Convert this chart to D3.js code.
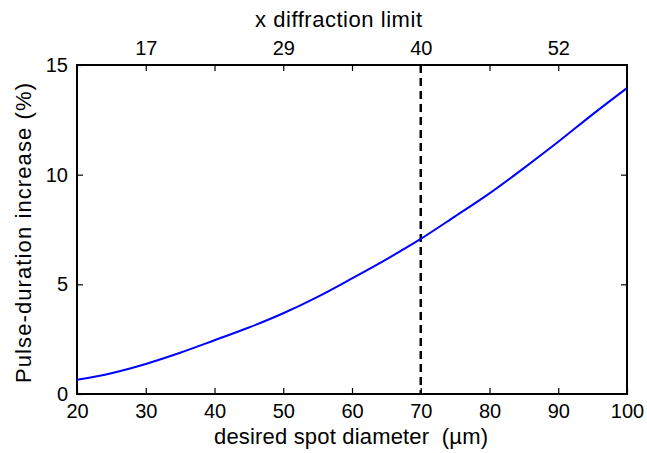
<!DOCTYPE html>
<html>
<head>
<meta charset="utf-8">
<script src="https://cdn.jsdelivr.net/npm/d3@7"></script>
<style>
  body { margin: 0; background: #fff; }
  text { font-family: "Liberation Sans", Arial, sans-serif; fill: #000; }
</style>
</head>
<body>
<div id="chart"></div>
<script>
// spot diameter (um) and pulse-duration increase (%)
var diameters = [20, 25, 30, 35, 40, 45, 50, 55, 60, 65, 70, 75, 80, 85, 90, 95, 100];
var increase  = [0.65, 0.95, 1.37, 1.88, 2.45, 3.03, 3.68, 4.43, 5.27, 6.14, 7.07, 8.1, 9.15, 10.3, 11.5, 12.75, 13.95];

var xTicks = [20, 30, 40, 50, 60, 70, 80, 90, 100];
var yTicks = [0, 5, 10, 15];
var topTickPos = [30, 40, 50, 60, 70, 80, 90];
var topLabelPos = [30, 50, 70, 90];
var topLabels = ['17', '29', '40', '52'];
var markerX = 70;

var W = 647, H = 453;
var m = {left: 77, right: 20, top: 65, bottom: 59};
var iw = W - m.left - m.right, ih = H - m.top - m.bottom;

var svg = d3.select('#chart').append('svg').attr('width', W).attr('height', H);
var g = svg.append('g').attr('transform', 'translate(' + m.left + ',' + m.top + ')');

var x = d3.scaleLinear().domain([20, 100]).range([0, iw]);
var y = d3.scaleLinear().domain([0, 15]).range([ih, 0]);

function style(ax){
    ax.select('.domain').remove();
    ax.attr('font-family', null).attr('font-size', null);
    ax.selectAll('line').attr('stroke', '#000').attr('stroke-width', 1.2);
    ax.selectAll('text').attr('font-size', 20);
}

// bottom
g.append('g').attr('transform', 'translate(0,' + ih + ')')
  .call(d3.axisBottom(x).tickValues(xTicks).tickSizeInner(-6).tickSizeOuter(0).tickPadding(10))
  .call(style);
// top
var topAx = d3.axisTop(x).tickValues(topTickPos).tickSizeInner(-6).tickSizeOuter(0).tickPadding(10)
  .tickFormat(function(d){ var i = topLabelPos.indexOf(d); return i < 0 ? '' : topLabels[i]; });
g.append('g').call(topAx).call(style);
// left
g.append('g')
  .call(d3.axisLeft(y).tickValues(yTicks).tickSizeInner(-6).tickSizeOuter(0).tickPadding(9))
  .call(style);
// right
g.append('g').attr('transform', 'translate(' + iw + ',0)')
  .call(d3.axisRight(y).tickValues([5, 10]).tickSizeInner(-6).tickSizeOuter(0).tickFormat(''))
  .call(style);

// frame
g.append('rect').attr('width', iw).attr('height', ih)
  .attr('fill', 'none').attr('stroke', '#000').attr('stroke-width', 2);

// dashed marker
g.append('line').attr('x1', x(markerX)).attr('x2', x(markerX)).attr('y1', 0).attr('y2', ih)
  .attr('stroke', '#000').attr('stroke-width', 2.5).attr('stroke-dasharray', '8,5');

var line = d3.line().curve(d3.curveMonotoneX)
  .x(function(d, i){ return x(diameters[i]); })
  .y(function(d){ return y(d); });
g.append('path').datum(increase).attr('d', line)
  .attr('fill', 'none').attr('stroke', '#0000ff').attr('stroke-width', 2);

// titles
svg.append('text').attr('x', 338.5).attr('y', 27).attr('text-anchor', 'middle')
  .attr('font-size', 22).attr('textLength', 167).attr('lengthAdjust', 'spacing')
  .text('x diffraction limit');
svg.append('text').attr('x', 351).attr('y', 444).attr('text-anchor', 'middle')
  .attr('font-size', 22).attr('textLength', 274).attr('lengthAdjust', 'spacing')
  .attr('xml:space', 'preserve').text('desired spot diameter  (\u00b5m)');
svg.append('text').attr('transform', 'translate(31,233) rotate(-90)')
  .attr('text-anchor', 'middle').attr('font-size', 22).attr('textLength', 300).attr('lengthAdjust', 'spacing')
  .text('Pulse-duration increase (%)');
</script>
</body>
</html>
